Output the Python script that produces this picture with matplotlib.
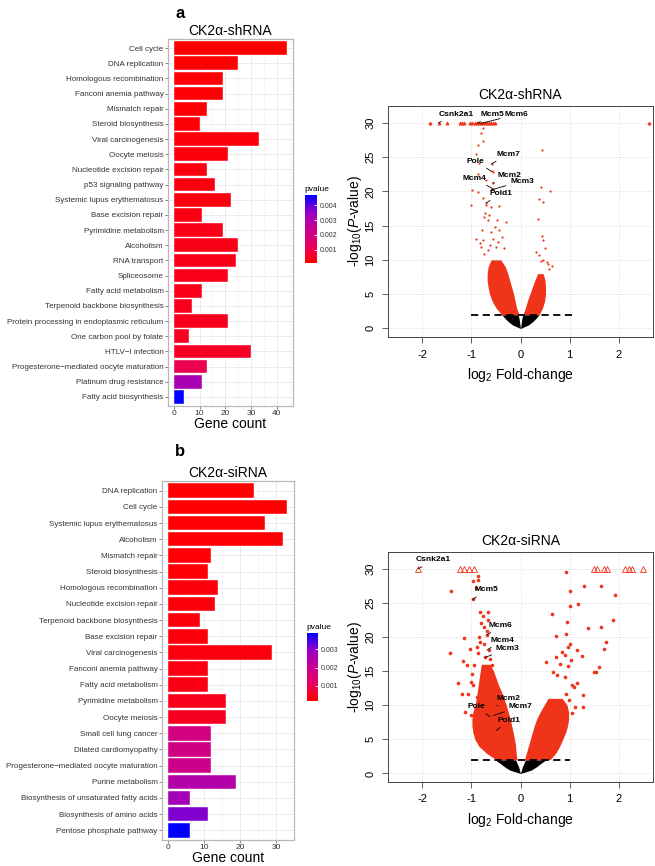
import numpy as np
import matplotlib
matplotlib.use('Agg')
import matplotlib.pyplot as plt
from matplotlib import font_manager
from matplotlib.colors import LinearSegmentedColormap, Normalize
from matplotlib.cm import ScalarMappable

plt.rcParams['font.family'] = ['Liberation Sans', 'DejaVu Sans']
plt.rcParams['mathtext.fontset'] = 'custom'
plt.rcParams['mathtext.rm'] = 'Liberation Sans'
plt.rcParams['mathtext.it'] = 'Liberation Sans:italic'

# narrow face for the long pathway names, if it is there
_names = {f.name for f in font_manager.fontManager.ttflist}
if 'Liberation Sans Narrow' in _names:
    term_font = ['Liberation Sans Narrow', 'DejaVu Sans']
    term_size = 7.1
else:
    term_font = ['Liberation Sans', 'DejaVu Sans']
    term_size = 5.8

# ============================================================================
# KEGG ENRICHMENT DATA
# ============================================================================

sh_terms = ['Cell cycle', 'DNA replication', 'Homologous recombination',
            'Fanconi anemia pathway', 'Mismatch repair', 'Steroid biosynthesis',
            'Viral carcinogenesis', 'Oocyte meiosis', 'Nucleotide excision repair',
            'p53 signaling pathway', 'Systemic lupus erythematosus',
            'Base excision repair', 'Pyrimidine metabolism', 'Alcoholism',
            'RNA transport', 'Spliceosome', 'Fatty acid metabolism',
            'Terpenoid backbone biosynthesis',
            'Protein processing in endoplasmic reticulum',
            'One carbon pool by folate', 'HTLV\u2212I infection',
            'Progesterone\u2212mediated oocyte maturation',
            'Platinum drug resistance', 'Fatty acid biosynthesis']
sh_count = [44, 25, 19, 19, 13, 10, 33, 21, 13, 16, 22, 11, 19, 25, 24, 21,
            11, 7, 21, 6, 30, 13, 11, 4]
sh_pval = [0.00013, 0.00015, 0.00018, 0.0002, 0.0002, 0.00022, 0.00025,
           0.00028, 0.0003, 0.0003, 0.00032, 0.00035, 0.0004, 0.0004,
           0.00042, 0.00045, 0.00045, 0.0005, 0.0005, 0.00055, 0.0006,
           0.0011, 0.0031, 0.00467]

si_terms = ['DNA replication', 'Cell cycle', 'Systemic lupus erythematosus',
            'Alcoholism', 'Mismatch repair', 'Steroid biosynthesis',
            'Homologous recombination', 'Nucleotide excision repair',
            'Terpenoid backbone biosynthesis', 'Base excision repair',
            'Viral carcinogenesis', 'Fanconi anemia pathway',
            'Fatty acid metabolism', 'Pyrimidine metabolism', 'Oocyte meiosis',
            'Small cell lung cancer', 'Dilated cardiomyopathy',
            'Progesterone\u2212mediated oocyte maturation', 'Purine metabolism',
            'Biosynthesis of unsaturated fatty acids',
            'Biosynthesis of amino acids', 'Pentose phosphate pathway']
si_count = [24, 33, 27, 32, 12, 11, 14, 13, 9, 11, 29, 11, 11, 16, 16, 12,
            12, 12, 19, 6, 11, 6]
si_pval = [0.00017, 0.00018, 0.0002, 0.0002, 0.00022, 0.00024, 0.00026,
           0.00028, 0.0003, 0.0003, 0.00032, 0.00035, 0.00038, 0.00045,
           0.0005, 0.0017, 0.0018, 0.0019, 0.0024, 0.0027, 0.0031, 0.0039]

# ============================================================================
# VOLCANO DATA
# dense clouds are kept as envelopes (y level, left x, right x)
# ============================================================================

# --- CK2a-shRNA ---
sha_cap_x = [-1.85, -1.67, -1.50, -1.23, -1.20, -1.15, -1.02, -0.98, -0.93,
             -0.88, -0.84, -0.80, -0.76, -0.72, -0.68, -0.64, -0.60, -0.56,
             -0.52, 2.62]
sha_pt_x = [-0.77, -0.81, -0.91, -0.86, -0.77, -0.84, -0.86, -0.57, -0.71,
            -0.98, -0.86, -1.01, -0.77, -0.71, -0.60, -0.43, -0.74, -0.67,
            -0.47, -0.30, -0.79, -0.60, -0.43, -0.91, -0.77, -0.57, -0.38,
            -0.81, -0.67, -0.50, -0.33, -0.59, -0.59, -0.57, -0.57, -0.60,
            -0.70, -0.72, -0.64, -0.52, -0.45, -0.83, -0.75, -0.62,
            0.43, 0.42, 0.60, 0.38, 0.45, 0.35, 0.43, 0.46, 0.31, 0.38, 0.54,
            0.65, 0.46, 0.58, 0.50, 0.41, 0.56]
sha_pt_y = [29.2, 28.5, 25.5, 26.7, 27.4, 24.1, 22.6, 22.8, 21.6, 20.2, 19.9,
            18.0, 19.0, 18.0, 17.7, 17.8, 16.3, 15.8, 15.8, 15.5, 14.3, 14.1,
            14.3, 13.1, 12.9, 13.1, 13.4, 11.9, 11.4, 11.9, 11.7, 24.0, 22.9,
            20.4, 21.2, 20.2, 18.3, 16.9, 16.6, 14.8, 12.6, 12.4, 10.8, 12.2,
            26.1, 20.6, 20.0, 18.9, 18.5, 15.9, 13.5, 12.9, 11.2, 10.7, 9.7,
            9.1, 10.0, 8.7, 11.8, 9.9, 9.4]
sha_left_y = [2, 3, 4, 5, 6, 7, 8, 9, 10]
sha_left_xl = [-0.38, -0.50, -0.58, -0.63, -0.66, -0.68, -0.68, -0.66, -0.60]
sha_left_xr = [-0.03, -0.08, -0.11, -0.14, -0.18, -0.22, -0.26, -0.31, -0.40]
sha_right_y = [2, 3, 4, 5, 6, 7, 8]
sha_right_xl = [0.05, 0.10, 0.14, 0.19, 0.24, 0.29, 0.35]
sha_right_xr = [0.38, 0.45, 0.49, 0.51, 0.51, 0.50, 0.46]
sha_black_y = [0, 0.5, 1, 1.5, 2]
sha_black_outer = [0, 0.16, 0.25, 0.32, 0.38]
sha_black_inner = [0, 0.01, 0.02, 0.03, 0.05]
sha_cut_x = [-1.0, 1.05]
sha_genes = ['Csnk2a1', 'Mcm5', 'Mcm6', 'Mcm7', 'Pole', 'Mcm4', 'Mcm2', 'Mcm3', 'Pold1']
sha_gene_x = [-1.67, -0.88, -0.81, -0.59, -0.59, -0.57, -0.57, -0.60, -0.70]
sha_gene_y = [30.0, 29.9, 29.9, 24.0, 22.9, 20.4, 21.2, 20.2, 18.3]
sha_text_x = [-1.32, -0.58, -0.09, -0.25, -0.91, -0.94, -0.23, 0.03, -0.40]
sha_text_y = [31.2, 31.2, 31.2, 25.4, 24.4, 21.9, 22.3, 21.5, 19.7]

# --- CK2a-siRNA ---
sib_cap_x = [-2.08, -1.23, -1.15, -1.04, -0.94, 1.50, 1.56, 1.70, 1.77, 2.13,
             2.21, 2.28, 2.49]
sib_pt_x = [-0.87, -0.87, -0.97, -1.42, -0.91, -0.97, -0.82, -0.66, -0.77,
            -0.66, -0.80, -0.75, -0.68, -0.85, -1.15, -0.83, -0.75, -0.89,
            -0.65, -1.02, -1.43, -0.87, -0.62, -1.17, -1.09, -0.94, -0.58,
            -0.99, -0.75, -1.00, -1.27, -0.96, -0.79, -1.20, -1.07, -0.89,
            -0.69, -1.14, -1.00, -0.89, -0.39, -0.68, -0.72, -0.48, -0.62,
            -0.55, -0.49,
            0.92, 1.30, 1.65, 1.93, 1.00, 1.01, 1.18, 0.65, 1.89, 0.94, 1.38,
            1.64, 0.73, 0.93, 1.75, 1.71, 1.00, 0.96, 1.25, 0.73, 0.90, 0.84,
            1.15, 1.02, 0.52, 0.81, 0.96, 1.49, 1.54, 1.59, 0.66, 0.74, 0.91,
            1.15, 1.05, 1.28, 0.93, 1.08, 0.98, 1.11, 1.28, 1.05, 0.88]
sib_pt_y = [28.9, 28.3, 28.2, 26.8, 27.2, 25.5, 23.6, 23.6, 23.1, 22.5, 22.1,
            21.5, 20.9, 20.0, 19.9, 19.3, 18.9, 18.5, 18.1, 18.3, 17.7, 17.6,
            16.8, 16.5, 15.9, 15.9, 15.9, 14.6, 14.6, 13.4, 13.2, 12.9, 12.7,
            11.7, 11.7, 11.2, 11.2, 9.0, 8.5, 7.8, 10.7, 20.3, 17.0, 9.9, 8.3,
            8.5, 6.3,
            29.5, 27.4, 27.4, 26.2, 26.7, 24.5, 24.9, 23.3, 22.5, 22.2, 21.3,
            21.5, 20.1, 20.4, 19.2, 18.3, 19.0, 18.6, 17.2, 17.1, 17.4, 17.8,
            18.1, 16.6, 16.4, 16.1, 15.8, 14.9, 14.9, 15.6, 14.9, 14.4, 14.1,
            13.3, 13.0, 11.5, 11.7, 12.7, 10.7, 9.8, 9.8, 8.8, 9.3]
sib_left_y = [2, 3, 4, 5, 6, 7, 8, 9, 10, 11, 12, 13, 14, 15, 16]
sib_left_xl = [-0.50, -0.70, -0.85, -0.93, -0.97, -0.99, -0.99, -0.97, -0.93,
               -0.90, -0.88, -0.86, -0.84, -0.82, -0.80]
sib_left_xr = [-0.07, -0.09, -0.10, -0.12, -0.15, -0.18, -0.21, -0.25, -0.29,
               -0.34, -0.39, -0.45, -0.50, -0.55, -0.62]
sib_right_y = [2, 3, 4, 5, 6, 7, 8, 9, 10, 11]
sib_right_xl = [0.08, 0.12, 0.16, 0.20, 0.24, 0.28, 0.33, 0.40, 0.48, 0.56]
sib_right_xr = [0.60, 0.72, 0.80, 0.86, 0.92, 0.96, 0.98, 0.98, 0.95, 0.85]
sib_black_y = [0, 0.5, 1, 1.5, 2]
sib_black_outer = [0, 0.22, 0.33, 0.42, 0.52]
sib_black_inner = [0, 0.02, 0.04, 0.07, 0.10]
sib_cut_x = [-1.0, 1.0]
sib_genes = ['Csnk2a1', 'Mcm5', 'Mcm6', 'Mcm4', 'Mcm3', 'Mcm2', 'Pole', 'Mcm7', 'Pold1']
sib_gene_x = [-2.08, -0.97, -0.68, -0.68, -0.72, -0.48, -0.62, -0.55, -0.49]
sib_gene_y = [30.0, 25.5, 20.3, 18.1, 17.0, 9.9, 8.3, 8.5, 6.3]
sib_text_x = [-1.77, -0.70, -0.41, -0.37, -0.26, -0.24, -0.89, 0.0, -0.24]
sib_text_y = [31.3, 26.9, 21.7, 19.5, 18.3, 11.0, 9.8, 9.8, 7.8]

# ============================================================================
# STYLE
# ============================================================================

W, H = 655, 866
pv_cmap = LinearSegmentedColormap.from_list(
    'pv', ['#FF0000', '#E8005E', '#C80092', '#9600C6', '#0000FF'])
vol_red = '#F0341A'
txt_grey = '#333333'


def fig_rect(left, top, right, bottom):
    # pixel box -> figure fraction
    return [left / W, 1 - bottom / H, (right - left) / W, (bottom - top) / H]


def draw_bars(ax, cax, terms, counts, pvals, title, xmax, xticks, cbar_ticks):
    n = len(terms)
    norm = Normalize(vmin=min(pvals), vmax=max(pvals))
    ypos = np.arange(n)
    ax.barh(ypos, counts, height=0.9, color=pv_cmap(norm(pvals)),
            edgecolor='white', linewidth=0.3, zorder=3)
    ax.set_ylim(n - 0.4, -0.6)
    ax.set_xlim(-xmax * 0.05, xmax * 1.05)
    ax.set_yticks(ypos)
    ax.set_yticklabels(terms, fontsize=term_size, color=txt_grey, family=term_font)
    ax.set_xticks(xticks)
    ax.set_xticklabels([str(t) for t in xticks], fontsize=6, color=txt_grey)
    ax.set_xticks([t + 5 for t in xticks], minor=True)
    ax.tick_params(axis='both', which='major', length=2.2, width=0.5,
                   color='#555555', pad=1)
    ax.tick_params(axis='both', which='minor', length=0)
    ax.grid(True, which='major', color='#EBEBEB', linewidth=0.7, zorder=0)
    ax.grid(True, which='minor', axis='x', color='#F2F2F2', linewidth=0.4, zorder=0)
    ax.set_axisbelow(True)
    for sp in ax.spines.values():
        sp.set_color('#B8B8B8')
        sp.set_linewidth(0.9)
    ax.set_xlabel('Gene count', fontsize=10, labelpad=0)
    ax.set_title(title, fontsize=10, pad=3)

    sm = ScalarMappable(norm=norm, cmap=pv_cmap)
    cb = plt.colorbar(sm, cax=cax, ticks=cbar_ticks)
    cb.outline.set_visible(False)
    cb.ax.tick_params(labelsize=5, length=2.5, width=0.6, color='white',
                      direction='in', pad=2, labelcolor=txt_grey)
    cb.ax.set_yticklabels([f'{t:.3f}' for t in cbar_ticks])
    cax.set_title('pvalue', fontsize=6, loc='left', pad=3, x=-0.05)


def draw_volcano(ax, title, cap_x, pt_x, pt_y, left_env, right_env, black,
                 cut_x, genes, gx, gy, tx, ty, dot_size, cap_size, cap_fill):
    # black (non significant) fan
    by, bout, binn = black
    by = np.array(by)
    ax.fill_betweenx(by, -np.array(bout), -np.array(binn), color='black',
                     linewidth=0, zorder=2)
    ax.fill_betweenx(by, np.array(binn), np.array(bout), color='black',
                     linewidth=0, zorder=2)
    # significant red clouds
    for ys, xl, xr in (left_env, right_env):
        ax.fill_betweenx(ys, xl, xr, color=vol_red, linewidth=0, zorder=2)
    ax.plot(pt_x, pt_y, 'o', color=vol_red, markersize=dot_size,
            markeredgewidth=0, zorder=3)
    ax.plot(cap_x, [30] * len(cap_x), '^', markersize=cap_size,
            markerfacecolor=(vol_red if cap_fill else 'none'),
            markeredgecolor=vol_red, markeredgewidth=0.6, zorder=3)
    ax.plot(cut_x, [2, 2], color='black', linestyle=(0, (4, 2.5)), lw=1.3, zorder=4)
    for g, x, y, xt, yt in zip(genes, gx, gy, tx, ty):
        ax.annotate(g, xy=(x, y), xytext=(xt, yt), fontsize=6, fontweight='bold',
                    ha='center', va='center', zorder=5,
                    arrowprops=dict(arrowstyle='-', color='black', lw=0.6,
                                    shrinkA=1, shrinkB=0))
    ax.set_xlim(-2.7, 2.7)
    ax.set_ylim(-1.25, 32.45)
    ax.set_xticks([-2, -1, 0, 1, 2])
    ax.set_yticks([0, 5, 10, 15, 20, 25, 30])
    ax.set_xticklabels(['-2', '-1', '0', '1', '2'], fontsize=8)
    ax.set_yticklabels(['0', '5', '10', '15', '20', '25', '30'], fontsize=8,
                       rotation=90, va='center')
    ax.tick_params(length=4, width=0.6, color='#444444', pad=5)
    ax.grid(True, color='#D0D0D0', linestyle=(0, (1, 2)), linewidth=0.6, zorder=0)
    ax.set_axisbelow(True)
    for sp in ax.spines.values():
        sp.set_color('#444444')
        sp.set_linewidth(0.7)
    ax.set_xlabel(r'log$_2$ Fold-change', fontsize=10, labelpad=5)
    ax.set_ylabel(r'-log$_{10}$($P$-value)', fontsize=10, labelpad=1)
    ax.set_title(title, fontsize=10, pad=5)


# ============================================================================
# FIGURE
# ============================================================================

fig = plt.figure(figsize=(W / 100, H / 100), dpi=100)

ax_a = fig.add_axes(fig_rect(168, 39, 293, 406))
cax_a = fig.add_axes(fig_rect(305, 195, 317, 263))
draw_bars(ax_a, cax_a, sh_terms, sh_count, sh_pval, 'CK2\u03b1-shRNA', 44,
          [0, 10, 20, 30, 40], [0.001, 0.002, 0.003, 0.004])

ax_b = fig.add_axes(fig_rect(162, 481, 294, 840))
cax_b = fig.add_axes(fig_rect(307, 633, 318, 701))
draw_bars(ax_b, cax_b, si_terms, si_count, si_pval, 'CK2\u03b1-siRNA', 33,
          [0, 10, 20, 30], [0.001, 0.002, 0.003])

va = fig.add_axes(fig_rect(388, 106, 653, 337))
draw_volcano(va, 'CK2\u03b1-shRNA', sha_cap_x, sha_pt_x, sha_pt_y,
             (sha_left_y, sha_left_xl, sha_left_xr),
             (sha_right_y, sha_right_xl, sha_right_xr),
             (sha_black_y, sha_black_outer, sha_black_inner), sha_cut_x,
             sha_genes, sha_gene_x, sha_gene_y, sha_text_x, sha_text_y,
             1.6, 2.2, True)

vb = fig.add_axes(fig_rect(388, 552, 653, 782))
draw_volcano(vb, 'CK2\u03b1-siRNA', sib_cap_x, sib_pt_x, sib_pt_y,
             (sib_left_y, sib_left_xl, sib_left_xr),
             (sib_right_y, sib_right_xl, sib_right_xr),
             (sib_black_y, sib_black_outer, sib_black_inner), sib_cut_x,
             sib_genes, sib_gene_x, sib_gene_y, sib_text_x, sib_text_y,
             2.6, 5, False)

fig.text(175 / W, 1 - 14 / H, 'a', fontsize=12, fontweight='bold', ha='left', va='center')
fig.text(175 / W, 1 - 451 / H, 'b', fontsize=12, fontweight='bold', ha='left', va='center')

fig.savefig('out.png', dpi=100)
